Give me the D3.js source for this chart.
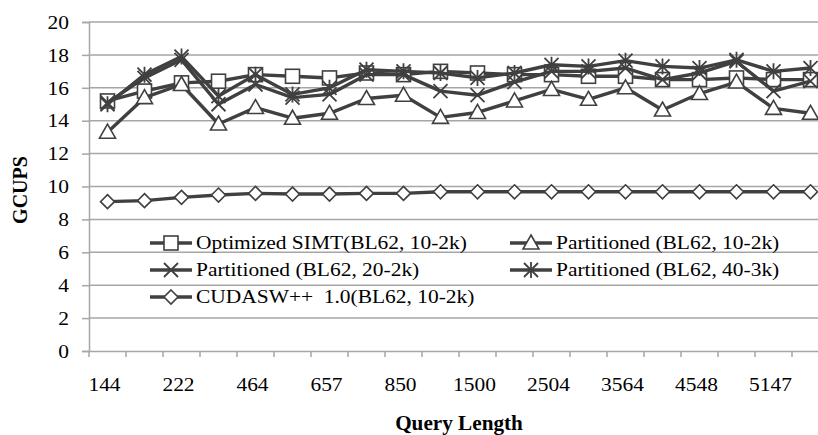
<!DOCTYPE html>
<html><head><meta charset="utf-8">
<script src="https://cdn.jsdelivr.net/npm/d3@7/dist/d3.min.js"></script>
<style>body{margin:0;background:#fff}svg{display:block}svg text{font-family:"Liberation Serif","Times New Roman",serif !important;fill:#000}</style>
</head><body><svg id="c" width="818" height="435"></svg>
<script>
const categories = ["144","189","222","375","464","567","657","729","850","1000","1500","2005","2504","3005","3564","4061","4548","4743","5147","5478"];
const simt = [15.2,15.8,16.3,16.4,16.8,16.7,16.6,16.9,16.8,17.0,16.9,16.8,16.8,16.7,16.7,16.5,16.5,16.6,16.5,16.5];
const part10 = [13.3,15.4,16.2,13.8,14.8,14.15,14.45,15.35,15.55,14.2,14.5,15.2,15.9,15.3,16.0,14.65,15.65,16.35,14.75,14.45];
const part20 = [15.1,16.6,17.7,15.0,16.2,15.4,15.6,16.8,16.8,15.8,15.55,16.35,17.0,17.0,17.2,16.5,16.9,17.6,15.8,16.4];
const part40 = [15.0,16.8,17.9,15.5,16.8,15.6,16.0,17.1,17.0,16.9,16.6,16.9,17.4,17.3,17.65,17.3,17.2,17.7,17.0,17.2];
const cudasw = [9.08,9.14,9.34,9.48,9.58,9.54,9.54,9.58,9.58,9.68,9.68,9.68,9.68,9.68,9.68,9.68,9.68,9.68,9.68,9.68];
const yTicks = [0,2,4,6,8,10,12,14,16,18,20];
const seriesNames = ["Optimized SIMT(BL62, 10-2k)","Partitioned (BL62, 10-2k)","Partitioned (BL62, 20-2k)","Partitioned (BL62, 40-3k)","CUDASW++  1.0(BL62, 10-2k)"];
const seriesValues = [simt, part10, part20, part40, cudasw];
const seriesMarkers = ["square","triangle","cross","star","diamond"];

const svg = d3.select("#c");
const x = d3.scaleBand().domain(categories).range([89, 829]);
const y = d3.scaleLinear().domain([0,20]).range([351, 22]);
const ink = "#404040", grid = "#a6a6a6";
const FS = 19.5, SX = 1.1;

// horizontally stretched text helper
function stretch(sel, sx){
  sel.each(function(){
    const t = d3.select(this);
    const xv = +(t.attr("x") || 0);
    t.attr("x", xv/sx).attr("transform", `scale(${sx},1)`);
  });
}

svg.append("g").selectAll("line").data(yTicks.filter(d=>d>0)).join("line")
  .attr("x1",89).attr("x2",829).attr("y1",d=>y(d)).attr("y2",d=>y(d))
  .attr("stroke",grid).attr("stroke-width",1.5);

const ya = svg.append("g").attr("transform","translate(89,0)")
  .call(d3.axisLeft(y).tickValues(yTicks).tickSize(7).tickPadding(13));
ya.select(".domain").attr("stroke",grid).attr("stroke-width",1.5);
ya.selectAll(".tick line").attr("stroke",grid).attr("stroke-width",1.5);
ya.selectAll(".tick text").attr("font-size",FS).attr("fill","#000").call(stretch, SX);

const xa = svg.append("g").attr("transform","translate(0,351)")
  .call(d3.axisBottom(x).tickSize(0).tickPadding(26).tickFormat((d,i)=> i%2===0 ? d : ""));
xa.select(".domain").attr("stroke",grid).attr("stroke-width",1.5);
xa.selectAll(".tick text").attr("font-size",FS).attr("fill","#000").attr("x",-3).call(stretch, SX);
svg.append("g").selectAll("line").data(categories.concat(["end"])).join("line")
  .attr("x1",(d,i)=>89 + i*x.bandwidth()).attr("x2",(d,i)=>89 + i*x.bandwidth())
  .attr("y1",351).attr("y2",357).attr("stroke",grid).attr("stroke-width",1.5);

svg.append("text").attr("x",459).attr("y",430).attr("text-anchor","middle")
  .attr("font-size",20).attr("font-weight","bold").text("Query Length").call(stretch, 1.06);
svg.append("text").attr("transform","translate(27,190) rotate(-90)").attr("text-anchor","middle")
  .attr("font-size",20).attr("font-weight","bold").text("GCUPS");

function marker(g, type, cx, cy){
  const s = 7;
  if(type==="square"){
    g.append("rect").attr("x",cx-s).attr("y",cy-s).attr("width",2*s).attr("height",2*s)
      .attr("fill","#fff").attr("stroke",ink).attr("stroke-width",1.6);
  } else if(type==="triangle"){
    g.append("path").attr("d",`M${cx},${cy-8}L${cx+8},${cy+6}L${cx-8},${cy+6}Z`)
      .attr("fill","#fff").attr("stroke",ink).attr("stroke-width",1.6);
  } else if(type==="diamond"){
    g.append("path").attr("d",`M${cx},${cy-7}L${cx+7},${cy}L${cx},${cy+7}L${cx-7},${cy}Z`)
      .attr("fill","#fff").attr("stroke",ink).attr("stroke-width",1.6);
  } else if(type==="cross"){
    g.append("path").attr("d",`M${cx-7},${cy-7}L${cx+7},${cy+7}M${cx+7},${cy-7}L${cx-7},${cy+7}`)
      .attr("stroke",ink).attr("stroke-width",1.8).attr("fill","none");
  } else if(type==="star"){
    g.append("path").attr("d",`M${cx-7},${cy-7}L${cx+7},${cy+7}M${cx+7},${cy-7}L${cx-7},${cy+7}M${cx},${cy-8}L${cx},${cy+8}`)
      .attr("stroke",ink).attr("stroke-width",1.8).attr("fill","none");
  }
}

const line = d3.line().x((d,i)=>x(categories[i])+x.bandwidth()/2).y(d=>y(d));
seriesValues.forEach((vals,k)=>{
  const g = svg.append("g");
  g.append("path").datum(vals).attr("d",line).attr("fill","none")
    .attr("stroke",ink).attr("stroke-width",3.4).attr("stroke-linejoin","round");
  vals.forEach((v,i)=>marker(g, seriesMarkers[k], x(categories[i])+x.bandwidth()/2, y(v)));
});

const legPos = [[150,243],[510,243],[150,270],[510,270],[150,297]];
seriesNames.forEach((name,k)=>{
  const [lx,ly] = legPos[k];
  const g = svg.append("g");
  g.append("line").attr("x1",lx).attr("x2",lx+42).attr("y1",ly).attr("y2",ly)
    .attr("stroke",ink).attr("stroke-width",3.4);
  marker(g, seriesMarkers[k], lx+21, ly);
  g.append("text").attr("x",lx+46).attr("y",ly+6.5).attr("font-size",FS)
    .style("white-space","pre").text(name).call(stretch, SX);
});
</script></body></html>
